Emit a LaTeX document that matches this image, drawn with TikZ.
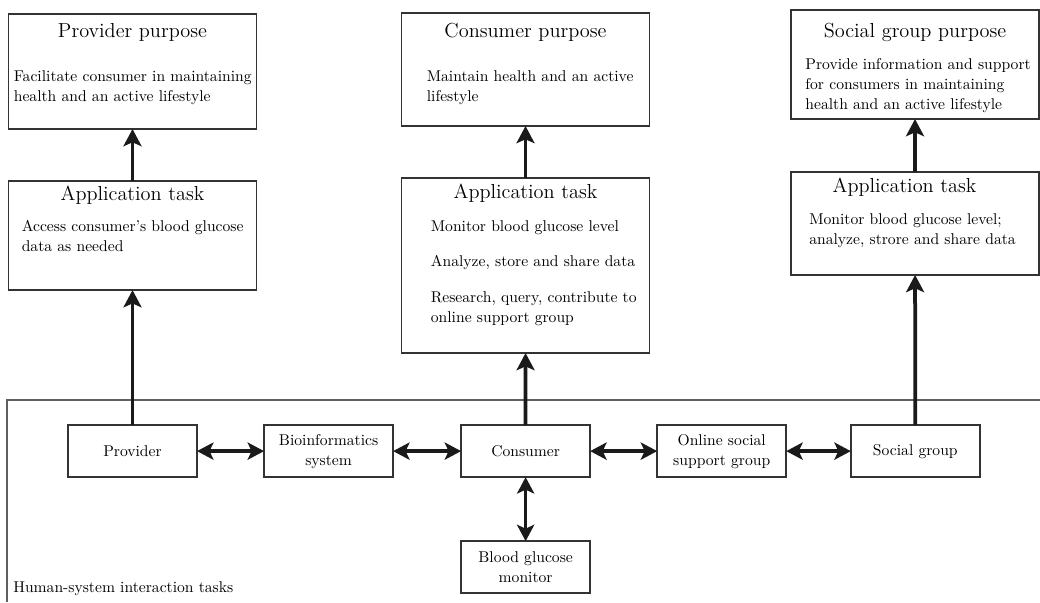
\documentclass[tikz,border=0pt]{standalone}
\usepackage{xcolor}
\usepackage{tikz}
\usetikzlibrary{arrows.meta,positioning}
\definecolor{rulegray}{HTML}{333333}
\definecolor{framegray}{HTML}{606060}
\definecolor{arrowblack}{HTML}{1A1A1A}

\begin{document}
\begin{tikzpicture}[
  x=0.64pt, y=-0.64pt,
  font=\fontsize{10}{12.8}\selectfont,
  box/.style={draw=rulegray, line width=1pt, minimum width=158.7pt, inner sep=0pt, outer sep=0pt},
  ttl/.style={font=\fontsize{13}{15.5}\selectfont, inner sep=0pt},
  txt/.style={align=left, inner sep=0pt, anchor=north west},
  unit/.style={draw=rulegray, line width=1pt, align=center, minimum width=82.6pt, minimum height=33.3pt, inner sep=2pt, outer sep=0pt},
  arr/.style={-{Stealth[length=11pt, width=11.5pt, inset=2.5pt]}, line width=2.4pt, arrowblack},
  dbl/.style={{Stealth[length=10.5pt, width=11pt, inset=2.5pt]}-{Stealth[length=10.5pt, width=11pt, inset=2.5pt]}, line width=2.2pt, arrowblack}
]
\useasboundingbox (0,0) rectangle (1040,602);
\draw[framegray, line width=0.7pt] (1040,400) -| (7,602);
\node[anchor=west, inner sep=0pt] (hsi) at (13,589) {Human-system interaction tasks};

\node[box, minimum height=73.6pt] (pp) at (132.5,71.5) {};
\node[box, minimum height=72.3pt] (cp) at (525.5,69.5) {};
\node[box, minimum height=69.8pt] (sp) at (915,64.5) {};
\node[box, minimum height=69.8pt, below=33.3pt of pp] (at1) {};
\node[box, minimum height=112pt, below=33.3pt of cp] (at2) {};
\node[box, minimum height=65.9pt, below=33.9pt of sp] (at3) {};

\node[ttl] (ppT) at ([yshift=-11.5pt]pp.north) {Provider purpose};
\node[txt] (ppB) at ([shift={(3.2pt,-35.8pt)}]pp.north west) {Facilitate consumer in maintaining\\health and an active lifestyle};
\node[ttl] (cpT) at ([yshift=-12.2pt]cp.north) {Consumer purpose};
\node[txt] (cpB) at ([shift={(16pt,-36.5pt)}]cp.north west) {Maintain health and an active\\lifestyle};
\node[ttl] (spT) at ([yshift=-14.1pt]sp.north) {Social group purpose};
\node[txt] (spB) at ([shift={(9pt,-30.7pt)}]sp.north west) {Provide information and support\\for consumers in maintaining\\health and an active lifestyle};
\node[ttl] (at1T) at ([yshift=-9pt]at1.north) {Application task};
\node[txt] (at1B) at ([shift={(8.3pt,-24.9pt)}]at1.north west) {Access consumer's blood glucose\\data as needed};
\node[ttl] (at2T) at ([yshift=-9.6pt]at2.north) {Application task};
\node[txt] (at2B) at ([shift={(18.6pt,-26.9pt)}]at2.north west) {Monitor blood glucose level\\[10pt]Analyze, store and share data\\[10pt]Research, query, contribute to\\online support group};
\node[ttl] (at3T) at ([shift={(-6.7pt,-9.6pt)}]at3.north) {Application task};
\node[txt] (at3B) at ([shift={(11.5pt,-26.2pt)}]at3.north west) {Monitor blood glucose level;\\analyze, strore and share data};

\node[unit, below=86.4pt of at1] (prov) {Provider};
\node[unit, right=42.9pt of prov] (bio) {Bioinformatics\\system};
\node[unit, right=43.5pt of bio] (cons) {Consumer};
\node[unit, right=42.9pt of cons] (osg) {Online social\\support group};
\node[unit, right=41.3pt of osg] (soc) {Social group};
\node[unit, below=41pt of cons] (bgm) {Blood glucose\\monitor};

\draw[arr] (at1) -- (pp);
\draw[arr] (at2) -- (cp);
\draw[arr] (at3) -- (sp);
\draw[arr] (prov) -- (at1);
\draw[arr] (cons) -- (at2);
\draw[arr] (soc) -- (at3);
\draw[dbl] (prov) -- (bio);
\draw[dbl] (bio) -- (cons);
\draw[dbl] (cons) -- (osg);
\draw[dbl] (osg) -- (soc);
\draw[dbl] (cons) -- (bgm);
\end{tikzpicture}
\end{document}
